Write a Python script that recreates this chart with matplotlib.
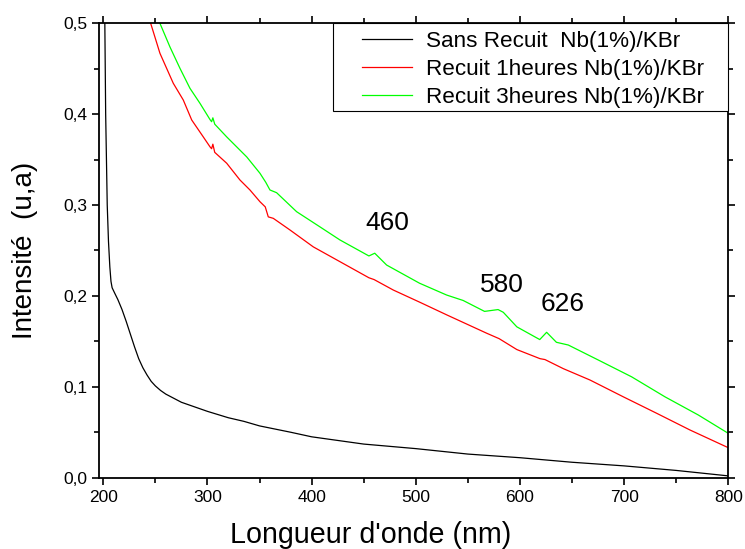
import matplotlib
matplotlib.use("Agg")
import matplotlib.pyplot as plt
from matplotlib.ticker import MultipleLocator, FuncFormatter
from matplotlib.patches import Rectangle

plt.rcParams['font.family'] = ['Liberation Sans', 'DejaVu Sans']

# Sans Recuit
x_black = [200, 201.5, 202.3, 203.8, 205.0, 206.3, 207.4, 208.5, 211, 214, 218, 222, 226, 230, 234, 238,
           242, 246, 250, 255, 260, 275, 290, 300, 320, 335, 350, 380, 400, 450, 500, 550, 600, 620,
           650, 700, 750, 800]
y_black = [0.60, 0.50, 0.40, 0.30, 0.26, 0.232, 0.216, 0.209, 0.203, 0.196, 0.185, 0.172, 0.158, 0.144, 0.131, 0.121,
           0.113, 0.106, 0.101, 0.096, 0.092, 0.083, 0.077, 0.073, 0.066, 0.062, 0.057, 0.050, 0.045, 0.037, 0.032, 0.026, 0.022, 0.020,
           0.017, 0.013, 0.008, 0.002]

# Recuit 1 heure
x_red = [243, 245.5, 254.4, 267.2, 276.8, 284.9, 296, 302.5, 304, 305.2, 307, 318.5, 331.2, 340.8, 350.4,
         355.5, 358.4, 363.2, 379.2, 401.6, 427.2, 455, 460, 478.4, 504, 530, 568, 580, 597, 619.2, 624,
         641.6, 667.2, 699.2, 731.2, 763.2, 800]
y_red = [0.51, 0.500, 0.467, 0.434, 0.4156, 0.3936, 0.375, 0.364, 0.362, 0.367, 0.358, 0.346, 0.3276, 0.3166, 0.3037,
         0.298, 0.287, 0.2854, 0.2726, 0.254, 0.2377, 0.220, 0.218, 0.2065, 0.193, 0.179, 0.159, 0.153, 0.141, 0.131, 0.130,
         0.120, 0.1075, 0.089, 0.0709, 0.0525, 0.033]

# Recuit 3 heures
x_green = [252, 254.4, 264, 273.6, 283.2, 292.8, 302.5, 304, 305.2, 307, 318.5, 337.7, 350.4, 356, 360, 366.4,
           385.6, 408, 427.2, 455, 460.6, 472, 503.6, 529.6, 545.5, 566, 579, 584, 597, 619, 625.6, 635,
           646.4, 675.2, 707.2, 739.2, 771.2, 800]
y_green = [0.51, 0.500, 0.474, 0.4505, 0.4285, 0.412, 0.394, 0.3917, 0.396, 0.389, 0.375, 0.353, 0.335, 0.325, 0.3166, 0.3136,
           0.2927, 0.276, 0.2616, 0.244, 0.247, 0.234, 0.214, 0.201, 0.195, 0.183, 0.185, 0.182, 0.166, 0.152, 0.160, 0.149,
           0.146, 0.1295, 0.111, 0.089, 0.069, 0.0488]

labels = ["Sans Recuit  Nb(1%)/KBr", "Recuit 1heures Nb(1%)/KBr", "Recuit 3heures Nb(1%)/KBr"]
peak_labels = ["460", "580", "626"]
peak_x = [473, 582.5, 641.3]
peak_y = [0.2806, 0.212, 0.191]

W, H = 745, 549
fig = plt.figure(figsize=(W / 100, H / 100), dpi=100)
ax = fig.add_axes([99 / W, 1 - 477.7 / H, (728.3 - 99) / W, (477.7 - 23.3) / H])

ax.plot(x_black, y_black, color='black', lw=0.9, label=labels[0])
ax.plot(x_red, y_red, color='#ff0000', lw=0.9, label=labels[1])
ax.plot(x_green, y_green, color='#00ff00', lw=0.9, label=labels[2])

for t, px, py in zip(peak_labels, peak_x, peak_y):
    ax.text(px, py, t, fontsize=19, ha='center', va='center')

ax.set_xlim(195.9, 800)
ax.set_ylim(0, 0.5)
ax.xaxis.set_major_locator(MultipleLocator(100))
ax.xaxis.set_minor_locator(MultipleLocator(50))
ax.yaxis.set_major_locator(MultipleLocator(0.1))
ax.yaxis.set_minor_locator(MultipleLocator(0.05))
ax.yaxis.set_major_formatter(FuncFormatter(lambda v, p: f"{v:.1f}".replace('.', ',')))

ax.tick_params(which='major', direction='out', length=5, width=1.2, labelsize=12.5)
ax.tick_params(which='minor', direction='out', length=3.5, width=1.2)
ax.tick_params(which='both', top=True, right=True)
for s in ax.spines.values():
    s.set_linewidth(1.3)

ax.set_xlabel("Longueur d'onde (nm)", fontsize=20.6)
ax.xaxis.set_label_coords(0.432, -0.096, transform=ax.transAxes)
ax.xaxis.label.set_va('top')
ax.set_ylabel("Intensité  (u,a)", fontsize=20, labelpad=18)

# legend box (frame drawn separately to match the wide side padding)
box = Rectangle((333 / W, 1 - 111 / H), (728 - 333) / W, (111 - 23) / H,
                transform=fig.transFigure, facecolor='white', edgecolor='black',
                linewidth=0.8, zorder=5)
fig.add_artist(box)
leg = fig.legend(loc='upper left', bbox_to_anchor=(362 / W, 1 - 31 / H), borderaxespad=0,
                 fontsize=16.2, frameon=False, handlelength=2.22, labelspacing=0.31,
                 borderpad=0, handletextpad=0.62)
leg.set_zorder(6)

fig.savefig("out.png", dpi=100)
